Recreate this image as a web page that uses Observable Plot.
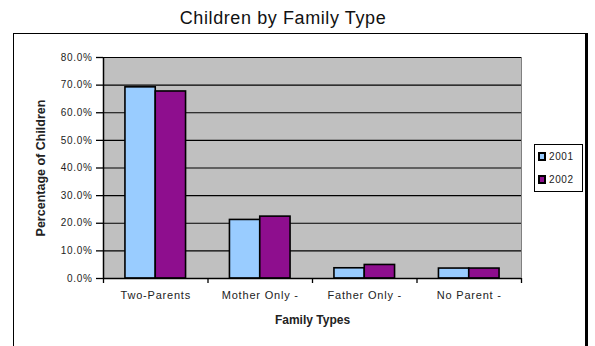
<!DOCTYPE html>
<html>
<head>
<meta charset="utf-8">
<script src="https://cdn.jsdelivr.net/npm/d3@7"></script>
<script src="https://cdn.jsdelivr.net/npm/@observablehq/plot@0.6"></script>
<style>
  html, body { margin: 0; padding: 0; background: #fff; }
  body { font-family: "Liberation Sans", Arial, sans-serif; }
  #page { position: relative; width: 595px; height: 346px; overflow: hidden; }
  #title { position: absolute; left: 0; top: 8px; width: 566px; text-align: center;
           font-size: 18px; color: #111; letter-spacing: 0.6px; }
  #frame { position: absolute; left: 13px; top: 33px; width: 571px; height: 320px;
           border-left: 1px solid #000; border-top: 1px solid #000; border-right: 3px solid #000; }
  #chart svg { display: block; }
  #chart text { font-family: "Liberation Sans", Arial, sans-serif; fill: #222; }
  #chart g[aria-label="y-axis tick label"] text { letter-spacing: 0.7px; }
  #chart g[aria-label="x-axis tick label"] text { letter-spacing: 0.8px; }
  #legend { position: absolute; left: 534px; top: 144px; width: 47px; height: 46px;
            border: 1px solid #000; background: #fff; }
  .entry { position: absolute; left: 3px; height: 12px; font-size: 10px; letter-spacing: 0.6px;
           color: #222; line-height: 12px; }
  .swatch { display: inline-block; width: 4px; height: 5px; border: 2px solid #000;
            vertical-align: -1px; margin-right: 3px; }
</style>
</head>
<body>
<div id="page">
  <div id="title">Children by Family Type</div>
  <div id="frame"><div id="chart"></div></div>
  <div id="legend"></div>
</div>
<script>
// Children by family type, share of all children (%)
const categories = ["Two-Parents", "Mother Only -", "Father Only -", "No Parent -"];
const years = ["2001", "2002"];
const values2001 = [69.2, 21.2, 3.7, 3.6];
const values2002 = [67.7, 22.4, 4.9, 3.6];
const yTicks = [0, 10, 20, 30, 40, 50, 60, 70, 80];
const colors = ["#99CCFF", "#8E0E8E"];

// long-form table: one row per category and year
const table = [];
categories.forEach((c, i) => {
  table.push({category: c, i, year: years[0], value: values2001[i]});
  table.push({category: c, i, year: years[1], value: values2002[i]});
});

const half = 0.29; // bar width in category units
const boundaries = d3.range(categories.length + 1).map(k => k - 0.5);

const chart = Plot.plot({
  width: 571,
  height: 312,
  marginLeft: 89,
  marginRight: 64,
  marginTop: 23,
  marginBottom: 68,
  x: {type: "linear", domain: [-0.5, categories.length - 0.5], axis: null},
  y: {domain: [0, 80], axis: null},
  color: {domain: years, range: colors},
  marks: [
    Plot.frame({fill: "#C0C0C0", stroke: "#808080"}),
    Plot.gridY(yTicks, {stroke: "#000", strokeOpacity: 1, strokeWidth: 1.2}),
    Plot.rect(table, {
      x1: d => d.year === years[0] ? d.i - half : d.i,
      x2: d => d.year === years[0] ? d.i : d.i + half,
      y1: 0,
      y2: "value",
      fill: "year",
      stroke: "#000",
      strokeWidth: 1.6
    }),
    Plot.ruleY([0], {stroke: "#000", strokeWidth: 1.5}),
    Plot.ruleX([-0.5], {stroke: "#000", strokeWidth: 1.5}),
    Plot.axisY(yTicks, {
      anchor: "left", tickSize: 7, tickPadding: 4, strokeWidth: 1.3,
      tickFormat: d => d.toFixed(1) + "%", fontSize: 10, label: null
    }),
    Plot.axisX(boundaries, {
      anchor: "bottom", tickSize: 5, strokeWidth: 1.3, tickFormat: () => "", label: null
    }),
    Plot.axisX(categories.map((_, i) => i), {
      anchor: "bottom", tickSize: 0, tickPadding: 13,
      tickFormat: i => categories[i], fontSize: 11, label: null
    }),
    Plot.text(["Family Types"], {
      frameAnchor: "bottom", dy: 45, text: d => d, fontWeight: "bold", fontSize: 12
    }),
    Plot.text(["Percentage of Children"], {
      frameAnchor: "left", dx: -63, rotate: -90, textAnchor: "middle",
      text: d => d, fontWeight: "bold", fontSize: 12.5
    })
  ]
});
document.getElementById("chart").appendChild(chart);

// legend
const legend = document.getElementById("legend");
years.forEach((y, k) => {
  const e = document.createElement("div");
  e.className = "entry";
  e.style.top = (6 + k * 23) + "px";
  const sw = document.createElement("span");
  sw.className = "swatch";
  sw.style.background = colors[k];
  e.appendChild(sw);
  e.appendChild(document.createTextNode(y));
  legend.appendChild(e);
});
</script>
</body>
</html>
